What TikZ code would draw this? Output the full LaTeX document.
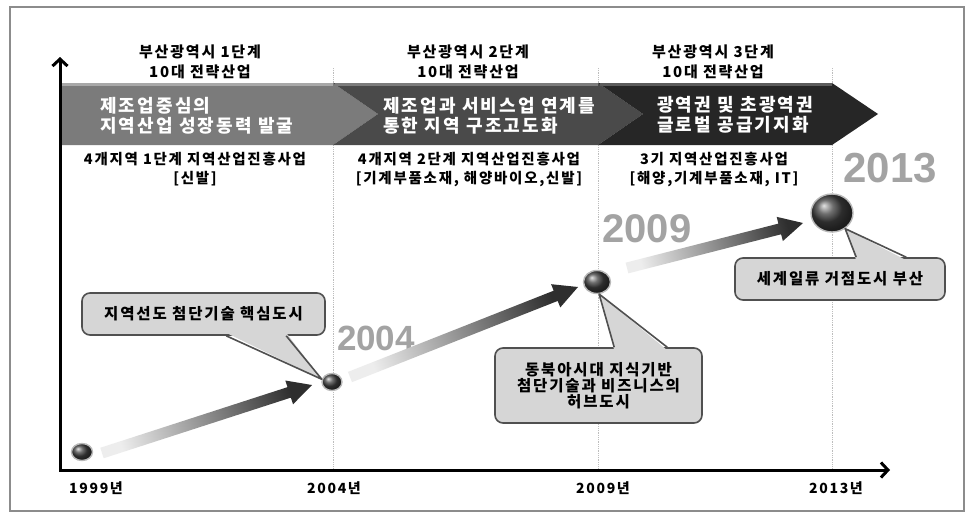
\documentclass[tikz,border=0pt]{standalone}
\usepackage{fontspec}
\usetikzlibrary{calc,arrows.meta,shapes.geometric,shadings}
\newfontfamily\kr[LetterSpace=12]{Noto Sans CJK KR}
\newfontfamily\yr{Liberation Sans}
\definecolor{framec}{HTML}{8C8C8C}
\definecolor{chevA}{HTML}{7B7B7B}
\definecolor{chevAt}{HTML}{A8A8A8}
\definecolor{chevB}{HTML}{4A4A4A}
\definecolor{chevBt}{HTML}{7C7C7C}
\definecolor{chevC}{HTML}{262626}
\definecolor{chevCt}{HTML}{5C5C5C}
\definecolor{yearc}{HTML}{A3A3A3}
\definecolor{callfill}{HTML}{D6D6D6}
\definecolor{calldraw}{HTML}{505050}
\definecolor{gridc}{HTML}{BDBDBD}
\tikzset{
  head/.style={font=\kr\bfseries\fontsize{15}{20}\selectfont, align=center, inner sep=0pt},
  bantext/.style={font=\kr\bfseries\fontsize{18}{20}\selectfont, text=white, align=left, anchor=west, inner sep=0pt},
  sublab/.style={font=\kr\bfseries\fontsize{14.5}{19}\selectfont, align=center, inner sep=0pt},
  yearlab/.style={font=\kr\bfseries\fontsize{14}{14}\selectfont, inner sep=0pt},
  bigyear/.style={font=\yr\bfseries\fontsize{#1}{#1}\selectfont, text=yearc, inner sep=0pt},
  callout/.style={draw=calldraw, fill=callfill, line width=1.6pt, rounded corners=8pt,
    font=\kr\bfseries\fontsize{15.5}{16}\selectfont, align=center, inner sep=0pt},
  ptrfill/.style={fill=callfill},
  ptrline/.style={draw=calldraw, line width=1.6pt, line join=round},
  dotball/.style={ellipse, draw=gray!55, line width=1.4pt, ball color=black!75, inner sep=0pt},
  gridline/.style={gridc, densely dotted, line width=0.8pt},
  axisline/.style={line width=3pt, line join=miter,
    {Straight Barb[length=7pt,width=15pt]}-{Straight Barb[length=7pt,width=15pt]}},
  chevtop/.style={line width=2.5pt}
}
\begin{document}
\begin{tikzpicture}[x=1pt,y=-1pt]
\useasboundingbox (0,0) rectangle (971,515);
\fill[white] (0,0) rectangle (971,515);
% frame
\draw[framec, line width=2pt] (10,7) rectangle (964,511);

% grid lines
\coordinate (v1t) at (333,68); \coordinate (v1b) at (333,470);
\coordinate (v2t) at (598,68); \coordinate (v2b) at (598,470);
\coordinate (v3t) at (832,68); \coordinate (v3b) at (832,470);
\draw[gridline] (v1t) -- (v1b);
\draw[gridline] (v2t) -- (v2b);
\draw[gridline] (v3t) -- (v3b);

% headers
\node[head] (h1) at (200,62) {부산광역시 1단계\\10대 전략산업};
\node[head] (h2) at (468,62) {부산광역시 2단계\\10대 전략산업};
\node[head] (h3) at (713,62) {부산광역시 3단계\\10대 전략산업};

% chevrons
\fill[chevA] (62,83) -- (333,83) -- (378,114) -- (333,145) -- (62,145) -- cycle;
\draw[chevAt, chevtop] (62,84.5) -- (333,84.5);
\fill[chevB] (333,83) -- (598,83) -- (643,114) -- (598,145) -- (333,145) -- (378,114) -- cycle;
\draw[chevBt, chevtop] (335,84.5) -- (598,84.5);
\fill[chevC] (598,83) -- (832,83) -- (878,114) -- (832,145) -- (598,145) -- (643,114) -- cycle;
\draw[chevCt, chevtop] (600,84.5) -- (832,84.5);

\node[bantext] (b1) at (100,116) {제조업중심의\\지역산업 성장동력 발굴};
\node[bantext] (b2) at (383,116) {제조업과 서비스업 연계를\\통한 지역 구조고도화};
\node[bantext] (b3) at (657,115) {광역권 및 초광역권\\글로벌 공급기지화};

% sub labels
\node[sublab] (s1) at (195,169) {4개지역 1단계 지역산업진흥사업\\{[}신발{]}};
\node[sublab] (s2) at (469,169) {4개지역 2단계 지역산업진흥사업\\{[}기계부품소재, 해양바이오,신발{]}};
\node[sublab] (s3) at (714,169) {3기 지역산업진흥사업\\{[}해양,기계부품소재, IT{]}};

% axes
\coordinate (ytip) at (60,57);
\coordinate (orig) at (60,470);
\coordinate (xtip) at (890,470);
\draw[axisline] (ytip) -- (orig) -- (xtip);

% axis year labels
\node[yearlab] (y1999) at (96,488) {1999년};
\node[yearlab] (y2004) at (334,488) {2004년};
\node[yearlab] (y2009) at (603,488) {2009년};
\node[yearlab] (y2013) at (836,488) {2013년};

% big years
\node[bigyear=35] (n2004) at (376,338) {2004};
\node[bigyear=40] (n2009) at (647,229) {2009};
\node[bigyear=42] (n2013) at (890,168) {2013};

% gradient arrows
\coordinate (g1s) at (102,453); \coordinate (g1e) at (312,385);
\coordinate (g2s) at (350,377); \coordinate (g2e) at (578,287);
\coordinate (g3s) at (627,268); \coordinate (g3e) at (803,223);
\foreach \s/\e/\a in {g1s/g1e/-72, g2s/g2e/-68.5, g3s/g3e/-75.7} {
  \coordinate (hb) at ($(\e)!24pt!(\s)$);
  \shade[top color=black!82, bottom color=black!7, shading angle=\a]
    ($(\s)!5.5pt!90:(\e)$) -- ($(hb)!5.5pt!90:(\e)$) -- ($(hb)!12.5pt!90:(\e)$) -- (\e)
    -- ($(hb)!12.5pt!-90:(\e)$) -- ($(hb)!5.5pt!-90:(\e)$) -- ($(\s)!5.5pt!-90:(\e)$) -- cycle;
}

% dots (positions)
\coordinate (p1999) at (82,452);
\coordinate (p2004) at (332,382);
\coordinate (p2009) at (597,282);
\coordinate (p2013) at (832,213);

% callouts
\node[callout, minimum width=243pt, minimum height=42pt] (c1) at (203.5,314) {지역선도 첨단기술 핵심도시};
\node[callout, minimum width=207pt, minimum height=75pt] (c2) at (598.5,385.5) {동북아시대 지식기반\\첨단기술과 비즈니스의\\허브도시};
\node[callout, minimum width=210pt, minimum height=42pt] (c3) at (840,279) {세계일류 거점도시 부산};

% dots
\node[dotball, minimum width=21pt, minimum height=17pt] (d1999) at (p1999) {};
\node[dotball, minimum width=20pt, minimum height=17pt] (d2004) at (p2004) {};
\node[dotball, minimum width=27pt, minimum height=23pt] (d2009) at (p2009) {};
\node[dotball, minimum width=42pt, minimum height=38pt] (d2013) at (p2013) {};

% pointers
\fill[ptrfill] ($(c1.south west)+(145,-3)$) -- (d2004.165) -- ($(c1.south west)+(205,-3)$) -- cycle;
\draw[ptrline] ($(c1.south west)+(145,0)$) -- (d2004.165) -- ($(c1.south west)+(205,0)$);
\fill[ptrfill] ($(c2.north west)+(120,3)$) -- (d2009.-80) -- ($(c2.north west)+(173,3)$) -- cycle;
\draw[ptrline] ($(c2.north west)+(120,0)$) -- (d2009.-80) -- ($(c2.north west)+(173,0)$);
\fill[ptrfill] ($(c3.north west)+(122,3)$) -- (d2013.-50) -- ($(c3.north west)+(172,3)$) -- cycle;
\draw[ptrline] ($(c3.north west)+(122,0)$) -- (d2013.-50) -- ($(c3.north west)+(172,0)$);
\end{tikzpicture}
\end{document}
